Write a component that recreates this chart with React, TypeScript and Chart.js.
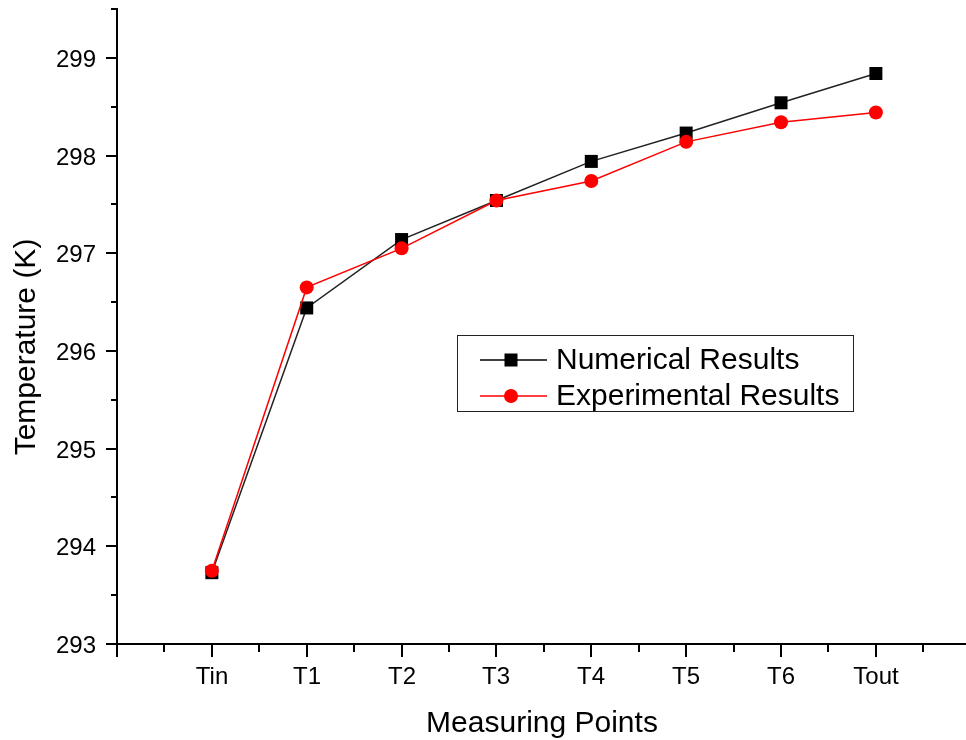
import React, { useEffect, useRef } from "react";
import { Chart, registerables } from "chart.js";

Chart.register(...registerables);

const categories = ["Tin", "T1", "T2", "T3", "T4", "T5", "T6", "Tout"];
const numericalResults = [293.73, 296.44, 297.14, 297.54, 297.94, 298.23, 298.54, 298.84];
const experimentalResults = [293.75, 296.65, 297.05, 297.54, 297.74, 298.14, 298.34, 298.44];
const yTickValues = [293, 294, 295, 296, 297, 298, 299];
const xTitle = "Measuring Points";
const yTitle = "Temperature (K)";
const seriesNames = ["Numerical Results", "Experimental Results"];

const FONT = "'Liberation Sans', Arial, sans-serif";

const axesPlugin = {
  id: "originAxes",
  afterDraw(chart: any) {
    const ctx = chart.ctx;
    const xs = chart.scales.x;
    const ys = chart.scales.y;
    const ca = chart.chartArea;
    ctx.save();
    ctx.strokeStyle = "#000";
    ctx.fillStyle = "#000";
    ctx.lineWidth = 2;
    // axis lines
    ctx.beginPath();
    ctx.moveTo(ca.left, ca.top - 1);
    ctx.lineTo(ca.left, ca.bottom);
    ctx.moveTo(ca.left, ca.bottom);
    ctx.lineTo(ca.right, ca.bottom);
    ctx.stroke();
    // y ticks
    ctx.font = `24px ${FONT}`;
    ctx.textAlign = "right";
    ctx.textBaseline = "alphabetic";
    for (let v = ys.min; v <= ys.max + 1e-6; v += 0.5) {
      const py = Math.round(ys.getPixelForValue(v));
      const major = Math.abs(v - Math.round(v)) < 1e-6;
      ctx.beginPath();
      ctx.moveTo(ca.left - (major ? 11 : 6), py);
      ctx.lineTo(ca.left, py);
      ctx.stroke();
      if (major && yTickValues.includes(Math.round(v))) {
        ctx.fillText(String(Math.round(v)), 96, py + 8.5);
      }
    }
    // x ticks
    ctx.textAlign = "center";
    for (let v = xs.min; v <= xs.max + 1e-6; v += 0.5) {
      const px = Math.round(xs.getPixelForValue(v));
      const major = Math.abs(v - Math.round(v)) < 1e-6;
      ctx.beginPath();
      ctx.moveTo(px, ca.bottom);
      ctx.lineTo(px, ca.bottom + (major ? 13 : 8));
      ctx.stroke();
      const idx = Math.round(v);
      if (major && idx >= 0 && idx < categories.length) {
        ctx.fillText(categories[idx], px, 684);
      }
    }
    // titles
    ctx.font = `30px ${FONT}`;
    ctx.fillText(xTitle, 542, 732);
    ctx.save();
    ctx.translate(35, 347);
    ctx.rotate(-Math.PI / 2);
    ctx.fillText(yTitle, 0, 0);
    ctx.restore();
    // legend
    ctx.lineWidth = 1;
    ctx.strokeStyle = "#222";
    ctx.strokeRect(457.5, 335.5, 396, 76);
    const rows = [
      { y: 360, color: "#000", style: "rect" },
      { y: 396, color: "#ff0000", style: "circle" },
    ];
    ctx.font = `30px ${FONT}`;
    ctx.textAlign = "left";
    ctx.textBaseline = "middle";
    rows.forEach((r, i) => {
      ctx.strokeStyle = r.color;
      ctx.lineWidth = 1.5;
      ctx.beginPath();
      ctx.moveTo(480, r.y);
      ctx.lineTo(547, r.y);
      ctx.stroke();
      ctx.fillStyle = r.color;
      if (r.style === "rect") {
        ctx.fillRect(511 - 6.5, r.y - 6.5, 13, 13);
      } else {
        ctx.beginPath();
        ctx.arc(511, r.y, 7, 0, Math.PI * 2);
        ctx.fill();
      }
      ctx.fillStyle = "#000";
      ctx.fillText(seriesNames[i], 556, r.y + 1);
    });
    ctx.restore();
  },
};

export default function App() {
  const canvasRef = useRef<HTMLCanvasElement | null>(null);
  useEffect(() => {
    if (!canvasRef.current) return;
    const chart = new Chart(canvasRef.current, {
      type: "line",
      data: {
        datasets: [
          {
            label: seriesNames[0],
            data: numericalResults.map((v, i) => ({ x: i, y: v })),
            borderColor: "#222",
            backgroundColor: "#000",
            borderWidth: 1.5,
            pointStyle: "rect",
            pointRadius: 9.2,
            pointBorderWidth: 0,
            order: 2,
            clip: false,
          },
          {
            label: seriesNames[1],
            data: experimentalResults.map((v, i) => ({ x: i, y: v })),
            borderColor: "#ff0000",
            backgroundColor: "#ff0000",
            borderWidth: 1.5,
            pointStyle: "circle",
            pointRadius: 7,
            pointBorderWidth: 0,
            order: 1,
            clip: false,
          },
        ],
      },
      options: {
        animation: false,
        responsive: false,
        devicePixelRatio: 1,
        layout: { autoPadding: false, padding: { left: 117, top: 9, right: 0, bottom: 96 } },
        plugins: { legend: { display: false }, tooltip: { enabled: false } },
        scales: {
          x: { type: "linear", min: -1, max: 7.95, display: false },
          y: { type: "linear", min: 293, max: 299.5, display: false },
        },
      },
      plugins: [axesPlugin],
    });
    return () => chart.destroy();
  }, []);
  return (
    <div style={{ position: "fixed", left: 0, top: 0, width: 966, height: 740, background: "#fff" }}>
      <canvas ref={canvasRef} width={966} height={740} style={{ width: 966, height: 740, display: "block" }} />
    </div>
  );
}
